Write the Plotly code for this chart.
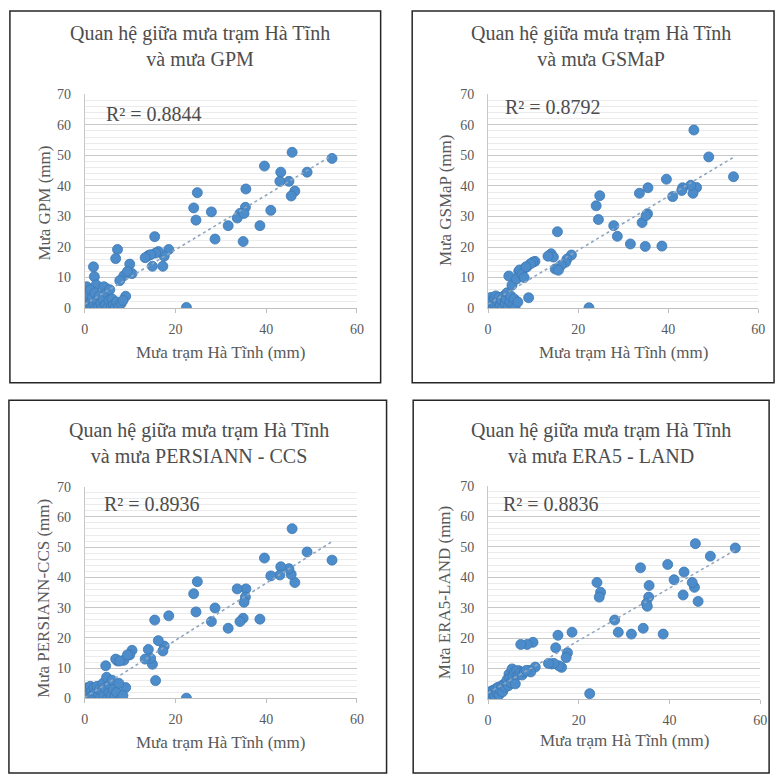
import numpy as np
import plotly.graph_objects as go

# Station rainfall (mm) at Ha Tinh, shared x values for all four comparisons
station = [
    54.5, 49.0, 46.3, 45.7, 45.5, 45.0, 43.2, 43.0, 41.0, 39.6,
    38.6, 35.5, 35.4, 34.9, 34.2, 33.6, 31.6, 28.7, 27.9, 24.8,
    24.0, 24.5, 22.4, 18.5, 17.5, 17.2, 16.2, 15.4, 14.9, 14.0,
    10.4, 9.9, 8.6, 7.2, 6.8, 9.0, 1.9, 2.1, 2.5, 4.6,
    15.6, 14.5, 13.3, 35.1, 9.4, 7.7,
    0.0, 0.1, 0.2, 0.3, 0.4, 0.5, 0.6, 0.8, 1.0, 1.2,
    1.4, 1.5, 1.7, 2.0, 2.2, 2.4, 2.7, 3.0, 3.2, 3.5,
    3.8, 4.0, 4.2, 4.5, 4.8, 5.0, 5.3, 5.5, 5.8, 6.0,
    6.3, 6.6, 7.0, 7.5, 8.0, 8.4,
]

# Satellite / reanalysis rainfall (mm)
gpm = [
    49.0, 44.5, 38.3, 51.0, 36.7, 41.5, 44.5, 41.5, 32.0, 46.5,
    27.0, 39.0, 33.0, 21.8, 31.0, 29.5, 27.0, 22.6, 31.5, 37.8,
    32.8, 28.8, 0.2, 19.2, 17.0, 13.7, 18.5, 23.4, 13.7, 17.2,
    11.3, 14.4, 10.6, 19.2, 16.2, 3.9, 13.5, 10.3, 7.6, 6.5,
    18.0, 17.5, 16.5, 31.0, 12.0, 9.0,
    0.0, 2.0, 5.0, 0.5, 7.0, 3.0, 1.0, 4.5, 0.0, 6.0,
    2.0, 0.5, 3.5, 1.0, 5.0, 0.0, 2.5, 0.5, 4.0, 1.5,
    0.0, 3.0, 7.0, 1.0, 5.0, 0.0, 2.5, 6.0, 0.5, 3.0,
    1.0, 0.0, 2.0, 0.5, 1.5, 2.5,
]
gsmap = [
    43.0, 49.5, 39.5, 58.3, 37.6, 40.2, 39.4, 38.5, 36.5, 42.2,
    20.3, 39.4, 30.9, 20.2, 28.0, 37.6, 21.0, 23.5, 27.0, 36.8,
    33.5, 29.0, 0.1, 17.4, 16.0, 15.0, 14.0, 25.0, 12.8, 17.8,
    15.3, 15.0, 13.5, 11.0, 12.0, 3.4, 2.0, 3.0, 2.0, 10.5,
    12.4, 16.7, 17.0, 30.3, 14.5, 12.5,
    0.0, 1.0, 3.0, 0.5, 2.0, 0.0, 3.5, 1.5, 2.5, 0.5,
    3.0, 1.0, 4.0, 0.0, 2.0, 3.5, 1.0, 2.5, 0.0, 4.0,
    1.5, 3.0, 5.0, 0.5, 2.0, 4.0, 7.5, 1.0, 3.0, 0.0,
    9.5, 2.0, 12.5, 11.0, 10.0, 13.5,
]
persiann = [
    45.7, 48.4, 38.3, 56.1, 41.0, 42.9, 43.5, 40.8, 40.5, 46.4,
    26.2, 36.2, 33.5, 26.5, 25.4, 36.2, 23.2, 29.9, 25.4, 38.6,
    34.6, 28.6, 0.1, 27.3, 17.3, 15.7, 19.1, 25.9, 11.3, 16.2,
    15.9, 14.4, 12.6, 12.4, 13.0, 3.6, 3.0, 2.0, 1.5, 10.8,
    5.9, 13.3, 13.0, 31.8, 14.4, 12.4,
    0.0, 2.5, 1.0, 3.5, 0.5, 2.0, 0.0, 3.0, 1.5, 4.0,
    0.5, 2.5, 1.0, 3.5, 0.0, 2.0, 4.0, 1.0, 3.0, 0.5,
    2.5, 5.0, 1.0, 3.5, 7.0, 0.0, 2.0, 4.5, 1.0, 6.0,
    3.0, 0.5, 2.0, 5.0, 0.0, 1.0,
]
era5 = [
    49.6, 46.9, 32.1, 51.0, 36.7, 38.3, 41.7, 34.2, 39.2, 44.2,
    21.4, 37.3, 33.5, 31.4, 23.3, 43.1, 21.4, 22.0, 26.0, 35.1,
    38.3, 33.5, 1.9, 22.0, 15.3, 13.7, 10.5, 21.0, 16.9, 11.6,
    10.6, 18.7, 18.0, 18.0, 9.4, 9.5, 2.0, 3.0, 3.5, 8.3,
    11.0, 11.8, 11.8, 30.5, 9.0, 8.6,
    1.0, 1.5, 0.5, 2.0, 1.2, 2.5, 1.0, 2.8, 1.8, 3.0,
    2.2, 1.0, 3.5, 2.0, 4.0, 1.5, 3.0, 4.5, 2.5, 5.0,
    4.0, 5.5, 6.5, 4.5, 7.0, 5.5, 10.0, 7.5, 9.0, 5.1,
    9.4, 8.0, 8.6, 8.0, 9.0, 9.5,
]

titles = [
    "Quan hệ giữa mưa trạm Hà Tĩnh<br>và mưa GPM",
    "Quan hệ giữa mưa trạm Hà Tĩnh<br>và mưa GSMaP",
    "Quan hệ giữa mưa trạm Hà Tĩnh<br>và mưa PERSIANN - CCS",
    "Quan hệ giữa mưa trạm Hà Tĩnh<br>và mưa ERA5 - LAND",
]
y_titles = ["Mưa GPM (mm)", "Mưa GSMaP (mm)", "Mưa PERSIANN-CCS (mm)", "Mưa ERA5-LAND (mm)"]
r2_labels = ["R² = 0.8844", "R² = 0.8792", "R² = 0.8936", "R² = 0.8836"]
x_title = "Mưa trạm Hà Tĩnh (mm)"
series = [gpm, gsmap, persiann, era5]

W, H = 784, 781
FONT = "Liberation Serif"
TEXT = "#595959"
DOT = "#4C8CCB"


def px(x):
    return x / W


def py(y):
    return 1 - y / H


# pixel geometry of each panel: plot area (x0, x1, y_top, y_bottom) and frame box
layouts = [
    dict(plot=(82, 358, 89, 307), box=(6, 4, 382, 383), title_y=40, r2=(101, 109),
         ytx=41, ytc=200, xty=352, tcx=199),
    dict(plot=(491, 765, 89, 307), box=(414, 4, 781, 383), title_y=40, r2=(506, 102),
         ytx=447, ytc=197, xty=352, tcx=605),
    dict(plot=(82, 358, 489, 705), box=(5, 401, 388, 781), title_y=445, r2=(99, 507),
         ytx=40, ytc=603, xty=750, tcx=198),
    dict(plot=(491, 767, 488, 706), box=(415, 401, 776, 781), title_y=445, r2=(504, 507),
         ytx=447, ytc=597, xty=748, tcx=605),
]

fig = go.Figure()
annotations = []
shapes = []

for i, (ys, lay) in enumerate(zip(series, layouts)):
    k = "" if i == 0 else str(i + 1)
    xa, ya = "x" + k, "y" + k
    x0, x1, yt, yb = lay["plot"]

    fig.add_trace(go.Scatter(
        x=station, y=ys, mode="markers", xaxis=xa, yaxis=ya,
        marker=dict(size=10, color=DOT, line=dict(width=0.8, color="#3E78B2")),
        showlegend=False,
    ))

    # linear trendline fitted to the data
    slope, icpt = np.polyfit(station, ys, 1)
    xs = np.array([min(station), max(station)])
    fig.add_trace(go.Scatter(
        x=xs, y=slope * xs + icpt, mode="lines", xaxis=xa, yaxis=ya,
        line=dict(color="#8FA6BF", width=1.6, dash="dot"),
        showlegend=False, hoverinfo="skip",
    ))

    fig.layout["xaxis" + k] = dict(
        domain=[px(x0), px(x1)], range=[0, 60], dtick=20, anchor=ya,
        showgrid=False, zeroline=False, showline=True, linecolor="#BFBFBF",
        linewidth=1, ticks="outside", ticklen=4, tickcolor="#BFBFBF",
        tickfont=dict(family=FONT, size=14, color=TEXT), ticklabelstandoff=4,
        fixedrange=True,
    )
    fig.layout["yaxis" + k] = dict(
        domain=[py(yb), py(yt)], range=[0, 70], dtick=10, anchor=xa,
        showgrid=True, gridcolor="#C8C8C8", gridwidth=1,
        minor=dict(dtick=2, showgrid=True, gridcolor="#EBEBEB", gridwidth=1),
        zeroline=False, showline=True, linecolor="#C8C8C8", linewidth=1,
        tickfont=dict(family=FONT, size=14, color=TEXT), ticklabelstandoff=10,
        fixedrange=True,
    )

    bx0, by0, bx1, by1 = lay["box"]
    shapes.append(dict(type="rect", xref="paper", yref="paper",
                       x0=px(bx0), x1=px(bx1), y0=py(by1), y1=py(by0),
                       line=dict(color="#262626", width=1.5)))

    annotations.append(dict(
        text=titles[i], xref="paper", yref="paper", x=px(lay["tcx"]), y=py(lay["title_y"]),
        xanchor="center", yanchor="middle", showarrow=False,
        font=dict(family=FONT, size=20, color="#4D4D4D"),
    ))
    annotations.append(dict(
        text=r2_labels[i], xref="paper", yref="paper", x=px(lay["r2"][0]), y=py(lay["r2"][1]),
        xanchor="left", yanchor="middle", showarrow=False,
        font=dict(family=FONT, size=20, color="#4D4D4D"),
    ))
    annotations.append(dict(
        text=x_title, xref="paper", yref="paper", x=px((x0 + x1) / 2), y=py(lay["xty"]),
        xanchor="center", yanchor="middle", showarrow=False,
        font=dict(family=FONT, size=17, color=TEXT),
    ))
    annotations.append(dict(
        text=y_titles[i], xref="paper", yref="paper", x=px(lay["ytx"]), y=py(lay["ytc"]),
        xanchor="center", yanchor="middle", showarrow=False, textangle=-90,
        font=dict(family=FONT, size=17, color=TEXT),
    ))

fig.update_layout(
    width=W, height=H, margin=dict(l=0, r=0, t=0, b=0),
    paper_bgcolor="white", plot_bgcolor="white",
    annotations=annotations, shapes=shapes,
)

fig.write_html("out.html")
